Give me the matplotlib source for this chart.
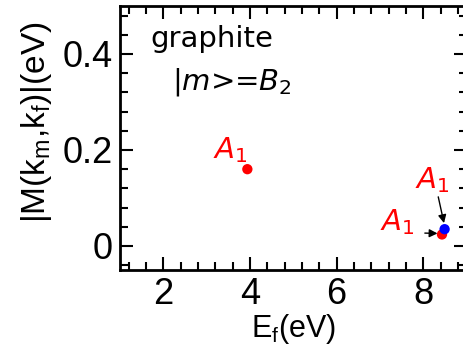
import numpy as np
import matplotlib.pyplot as plt
from matplotlib.ticker import MultipleLocator

# data
ef_red = [3.94, 8.43]
m_red = [0.160, 0.024]
ef_blue = [8.49]
m_blue = [0.035]

plt.rcParams['font.family'] = ['Liberation Sans', 'DejaVu Sans']
plt.rcParams['mathtext.fontset'] = 'dejavusans'

fig = plt.figure(figsize=(4.63, 3.52), dpi=100)
ax = fig.add_axes([0.259, 0.233, 0.749, 0.75])

ax.scatter(ef_red, m_red, s=55, color='red', zorder=3, edgecolors='none')
ax.scatter(ef_blue, m_blue, s=55, color='blue', zorder=4, edgecolors='none')

ax.set_xlim(1, 9)
ax.set_ylim(-0.05, 0.5)
ax.xaxis.set_major_locator(MultipleLocator(2))
ax.xaxis.set_minor_locator(MultipleLocator(0.4))
ax.yaxis.set_major_locator(MultipleLocator(0.2))
ax.yaxis.set_minor_locator(MultipleLocator(0.04))
ax.xaxis.set_major_formatter(plt.FuncFormatter(lambda v, p: '%g' % v))
ax.yaxis.set_major_formatter(plt.FuncFormatter(lambda v, p: '%g' % round(v, 2)))

ax.tick_params(which='both', direction='in', top=True, right=True, width=1.5,
               labelsize=26, pad=5)
ax.tick_params(which='major', length=9.5)
ax.tick_params(which='minor', length=5.5)
for s in ax.spines.values():
    s.set_linewidth(2)

ax.set_xlabel(r'E$_\mathregular{f}$(eV)', fontsize=22, labelpad=0)
ax.set_ylabel(r'|M(k$_\mathregular{m}$,k$_\mathregular{f}$)|(eV)', fontsize=24)
ax.yaxis.set_label_coords(-0.19, 0.56)

ax.text(1.7, 0.415, 'graphite', fontsize=21, family='DejaVu Sans', va='baseline')
ax.text(2.2, 0.325, r'|$m$>=$B_2$', fontsize=21, family='DejaVu Sans', va='baseline')

lbl = dict(color='red', fontsize=21, ha='center', va='center')
ax.text(3.55, 0.2, r'$A_1$', **lbl)
ax.text(8.2, 0.137, r'$A_1$', **lbl)
ax.text(7.4, 0.05, r'$A_1$', **lbl)

ax.annotate('', xy=(8.49, 0.042), xytext=(8.33, 0.108),
            arrowprops=dict(arrowstyle='-|>', color='black', lw=1, mutation_scale=12))
ax.annotate('', xy=(8.39, 0.026), xytext=(7.97, 0.027),
            arrowprops=dict(arrowstyle='-|>', color='black', lw=1, mutation_scale=12))

fig.savefig('out.png', dpi=100)
